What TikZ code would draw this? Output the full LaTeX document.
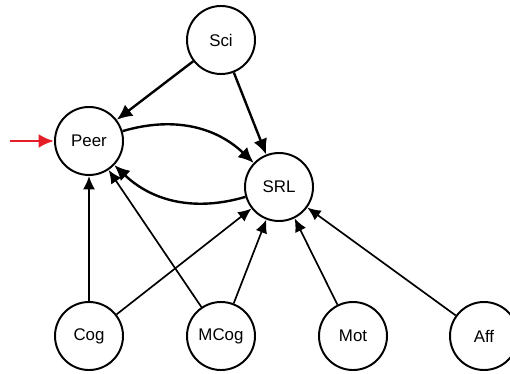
\documentclass[tikz,border=0pt]{standalone}
\usepackage{fontspec}
\setmainfont{Liberation Sans}
\usepackage{tikz}
\usetikzlibrary{arrows.meta}

\definecolor{entryred}{RGB}{228,30,38}

\begin{document}
\begin{tikzpicture}[x=0.025cm, y=-0.025cm, >={Latex[length=11pt,width=10pt]},
    var/.style={circle, draw, line width=1.4pt, minimum size=1.7cm, inner sep=0pt, font=\fontsize{12}{14}\selectfont},
    strong/.style={->, line width=1.7pt},
    weak/.style={->, line width=1.2pt, >={Latex[length=9.5pt,width=8.5pt]}}]
    \useasboundingbox (0,0) rectangle (510,373);

    % Top layer
    \node (sci) at (221,40) [var] {Sci};
    \node (peer) at (89,141) [var] {Peer};
    \node (srl) at (279,187) [var] {SRL};

    % Bottom layer
    \node (cog) at (89,336) [var] {Cog};
    \node (mcog) at (221,336) [var] {MCog};
    \node (mot) at (353,336) [var] {Mot};
    \node (aff) at (484,336) [var] {Aff};

    % Entry arrow
    \coordinate (entry) at (10,141);
    \draw[->, entryred, line width=2pt] (entry) -- (peer);

    % Sci and the loop
    \draw[strong] (sci) -- (peer);
    \draw[strong] (sci) -- (srl);
    \draw[strong, bend left=30] (peer) to (srl);
    \draw[strong, bend left=30] (srl) to (peer);

    % From below
    \draw[weak] (cog) -- (peer);
    \draw[weak] (cog) -- (srl);
    \draw[weak] (mcog) -- (peer);
    \draw[weak] (mcog) -- (srl);
    \draw[weak] (mot) -- (srl);
    \draw[weak] (aff) -- (srl);
\end{tikzpicture}
\end{document}
